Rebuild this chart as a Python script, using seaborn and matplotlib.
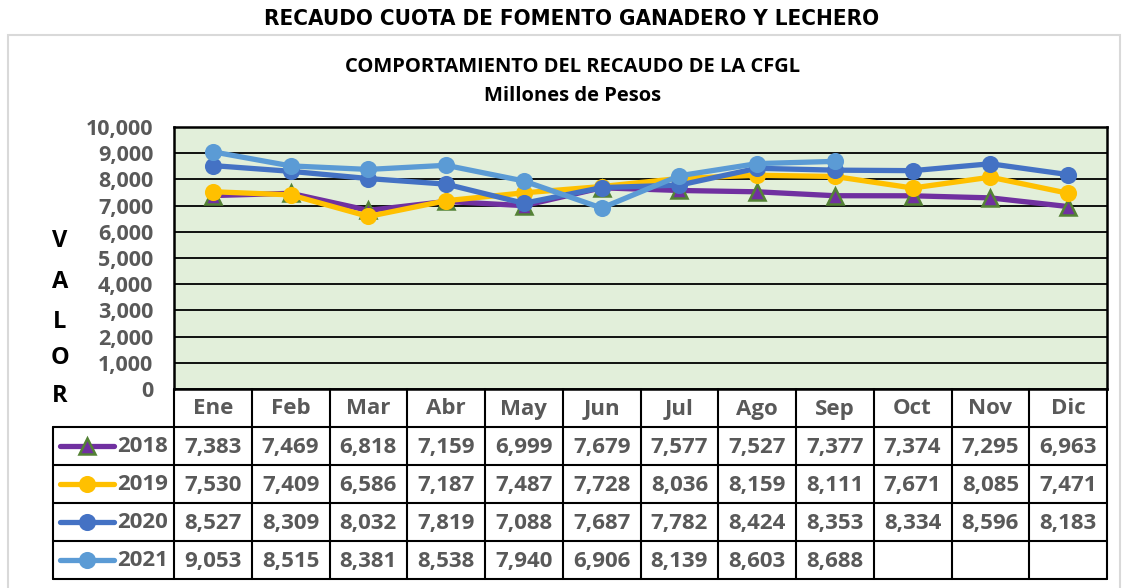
import matplotlib
matplotlib.use("Agg")
import matplotlib.pyplot as plt
import matplotlib.transforms as mtransforms
import seaborn as sns
import numpy as np
import pandas as pd
from matplotlib.lines import Line2D
from matplotlib.patches import Rectangle
from matplotlib.ticker import FuncFormatter, MultipleLocator

months = ["Ene", "Feb", "Mar", "Abr", "May", "Jun", "Jul", "Ago", "Sep", "Oct", "Nov", "Dic"]
years = ["2018", "2019", "2020", "2021"]
v2018 = [7383, 7469, 6818, 7159, 6999, 7679, 7577, 7527, 7377, 7374, 7295, 6963]
v2019 = [7530, 7409, 6586, 7187, 7487, 7728, 8036, 8159, 8111, 7671, 8085, 7471]
v2020 = [8527, 8309, 8032, 7819, 7088, 7687, 7782, 8424, 8353, 8334, 8596, 8183]
v2021 = [9053, 8515, 8381, 8538, 7940, 6906, 8139, 8603, 8688, np.nan, np.nan, np.nan]
series = [v2018, v2019, v2020, v2021]

colors = ["#7030A0", "#FFC000", "#4472C4", "#5B9BD5"]
markers = ["^", "o", "o", "o"]
medge = ["#548235", "#FFC000", "#4472C4", "#5B9BD5"]
msizes = [11, 10.5, 10.5, 10.5]

sns.set_theme(style="white")
plt.rcParams['font.family'] = ['Open Sans', 'DejaVu Sans']

W, H = 1125, 588
fig = plt.figure(figsize=(W / 100, H / 100), dpi=100)


def fx(px):
    return px / W


def fy(py):
    return 1 - py / H


# outer chart border
fig.patches.append(Rectangle((fx(8), fy(600)), fx(1120) - fx(8), fy(35) - fy(600),
                             transform=fig.transFigure, fill=False, ec="#D9D9D9", lw=1.5))

L, R, T, B = 174, 1107, 127, 389
ax = fig.add_axes([fx(L), fy(B), fx(R) - fx(L), fy(T) - fy(B)])
ax.set_facecolor("#E2EFDA")

x = np.arange(len(months))
df = pd.DataFrame({"mes": np.tile(x, len(years)),
                   "valor": np.concatenate([np.array(s, dtype=float) for s in series]),
                   "anio": np.repeat(years, len(months))})

for i, yr in enumerate(years):
    d = df[df["anio"] == yr]
    sns.lineplot(data=d, x="mes", y="valor", ax=ax, color=colors[i], lw=3.8,
                 marker=markers[i], markersize=msizes[i], markerfacecolor=colors[i],
                 markeredgecolor=medge[i], markeredgewidth=1.8, legend=False, zorder=3 + i)

ax.set_xlim(-0.5, len(months) - 0.5)
ax.set_ylim(0, 10000)
ax.yaxis.set_major_locator(MultipleLocator(1000))
ax.yaxis.set_major_formatter(FuncFormatter(lambda v, p: f"{int(v):,}"))
ax.set_xticks([])
ax.set_xlabel("")
ax.set_ylabel("")
ax.grid(axis="y", color="black", lw=1.3)
ax.set_axisbelow(True)
for sp in ax.spines.values():
    sp.set_color("black")
    sp.set_linewidth(1.8)
ax.tick_params(axis="y", length=0, pad=15, labelsize=15.5, labelcolor="#595959")
for lab in ax.get_yticklabels():
    lab.set_fontweight("bold")

# titles
fig.text(fx(572), fy(19), "RECAUDO CUOTA DE FOMENTO GANADERO Y LECHERO", ha="center", va="center",
         fontsize=16, fontweight="bold", fontstretch="condensed",
         family=["DejaVu Sans"], color="black")
fig.text(fx(573), fy(67), "COMPORTAMIENTO DEL RECAUDO DE LA CFGL", ha="center", va="center",
         fontsize=14.5, fontweight="bold", color="black")
fig.text(fx(573), fy(96), "Millones de Pesos", ha="center", va="center",
         fontsize=14.5, fontweight="bold", color="black")

# VALOR vertical letters
for ch, yy in zip("VALOR", [241, 282, 322, 358, 396]):
    fig.text(fx(60), fy(yy), ch, ha="center", va="center", fontsize=17, fontweight="bold", color="black")

# data table
tr = mtransforms.blended_transform_factory(ax.transData, fig.transFigure)
colw = (R - L) / len(months)
rows_y = [427, 465, 503, 541, 579]
lw_t = 1.5
for j, yy in enumerate(rows_y):
    fig.add_artist(Line2D([fx(53), fx(R)], [fy(yy), fy(yy)], color="black", lw=lw_t))
for k in range(len(months) + 1):
    xx = L + k * colw
    fig.add_artist(Line2D([fx(xx), fx(xx)], [fy(B), fy(579)], color="black", lw=lw_t))
fig.add_artist(Line2D([fx(53), fx(53)], [fy(427), fy(579)], color="black", lw=lw_t))

for j, m in enumerate(months):
    fig.text(j, fy((B + 427) / 2 + 1), m, transform=tr, ha="center", va="center",
             fontsize=16, fontweight="bold", color="#595959")

for i, (yr, s) in enumerate(zip(years, series)):
    cy = (rows_y[i] + rows_y[i + 1]) / 2
    for j, v in enumerate(s):
        if not np.isnan(v):
            fig.text(j, fy(cy + 1), f"{int(v):,}", transform=tr, ha="center", va="center",
                     fontsize=16, fontweight="bold", color="#595959")
    fig.add_artist(Line2D([fx(60), fx(114)], [fy(cy), fy(cy)], color=colors[i], lw=3.8,
                          solid_capstyle="round"))
    fig.add_artist(Line2D([fx(87)], [fy(cy)], color=colors[i], marker=markers[i],
                          markersize=msizes[i], markerfacecolor=colors[i],
                          markeredgecolor=medge[i], markeredgewidth=1.8, lw=0))
    fig.text(fx(168), fy(cy + 1), yr, ha="right", va="center", fontsize=16, fontweight="bold",
             color="#595959")

fig.savefig("out.png", dpi=100)
